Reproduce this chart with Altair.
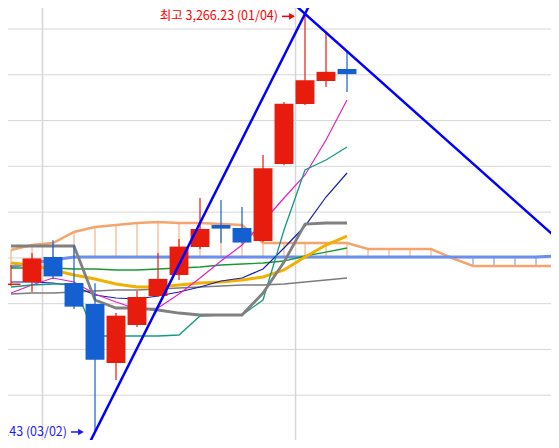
import altair as alt
import pandas as pd

# ---- monthly candles (KOSPI, Nov 2019 .. Mar 2021) ----
months = ["2019-11", "2019-12", "2020-01", "2020-02", "2020-03", "2020-04", "2020-05",
          "2020-06", "2020-07", "2020-08", "2020-09", "2020-10", "2020-11", "2020-12",
          "2021-01", "2021-02", "2021-03"]
open_p = [2081.6, 2094.7, 2203.9, 2090.3, 1998.6, 1740.8, 1906.8, 2033.5, 2125.3,
          2247.6, 2343.7, 2330.6, 2273.8, 2610.2, 2872.4, 2972.8, 3025.3]
high_p = [2169.0, 2221.4, 2277.23, 2255.0, 2089.6, 1959.2, 2055.4, 2221.4, 2282.5,
          2461.7, 2452.9, 2422.3, 2649.5, 2881.1, 3266.23, 3187.0, 3099.5]
low_p = [2077.2, 2051.0, 2109.0, 1976.7, 1439.43, 1666.5, 1898.1, 2030.0, 2103.4,
         2238.8, 2265.1, 2263.0, 2270.0, 2605.0, 2868.0, 2946.6, 2924.8]
close_p = [2087.96, 2197.67, 2119.01, 1987.01, 1754.64, 1947.56, 2029.60, 2108.33, 2249.37,
           2326.17, 2327.89, 2267.15, 2591.34, 2873.47, 2976.21, 3012.95, 3003.0]

# ---- indicator lines (one value per month) ----
ma5 = [2046.6, 2081.6, 2112.1, 2094.7, 2042.2, 2007.3, 1976.7, 1981.1, 2042.2,
       2112.1, 2186.4, 2256.3, 2356.8, 2461.7, 2562.2, 2715.1, 2889.8]
ma10 = [2094.7, 2094.7, 2090.3, 2077.2, 2037.9, 2024.8, 2020.4, 2033.5, 2051.0,
        2072.8, 2099.0, 2112.1, 2151.5, 2243.2, 2339.3, 2466.0, 2570.9]
ma20 = [2177.7, 2168.9, 2147.1, 2125.3, 2107.8, 2085.9, 2072.8, 2072.8, 2081.6,
        2090.3, 2094.7, 2103.4, 2116.5, 2147.1, 2203.9, 2256.3, 2295.6]
ma60 = [2155.8, 2155.8, 2155.8, 2151.5, 2151.5, 2147.1, 2147.1, 2151.5, 2155.8,
        2160.2, 2168.9, 2173.3, 2177.7, 2186.4, 2208.3, 2225.7, 2243.2]
ma120 = [2042.2, 2046.6, 2046.6, 2051.0, 2055.4, 2059.7, 2059.7, 2064.1, 2068.5,
         2072.8, 2077.2, 2081.6, 2081.6, 2085.9, 2094.7, 2103.4, 2112.1]
tenkan = [2072.8, 2081.6, 2085.9, 2085.9, 1858.7, 1858.7, 1858.7, 1858.7, 1863.1,
          1946.1, 1950.5, 1950.5, 2016.0, 2321.9, 2584.0, 2627.7, 2684.5]
kijun = [2252.0, 2252.0, 2252.0, 2252.0, 2016.0, 1981.1, 1981.1, 1972.3, 1959.2,
         1950.5, 1950.5, 1950.5, 2046.6, 2182.1, 2348.1, 2352.4, 2352.4]

# ---- Ichimoku cloud (extends 10 months ahead) ----
span_a = [2160.2, 2177.7, 2190.8, 2203.9, 2203.9, 2203.9, 2203.9, 2203.9, 2203.9,
          2203.9, 2203.9, 2203.9, 2203.9, 2203.9, 2203.9, 2203.9, 2203.9, 2203.9,
          2203.9, 2203.9, 2203.9, 2203.9, 2203.9, 2203.9, 2203.9, 2203.9, 2208.3]
span_b = [2234.5, 2256.3, 2265.1, 2313.1, 2335.0, 2343.7, 2352.4, 2356.8, 2352.4,
          2352.4, 2348.1, 2343.7, 2265.1, 2265.1, 2265.1, 2265.1, 2265.1, 2238.8,
          2238.8, 2238.8, 2238.8, 2199.5, 2164.6, 2164.6, 2164.6, 2164.6, 2164.6]

# ---- trend lines (month index, price) ----
trend_up_i = [3.55, 14.3]
trend_up_v = [1357.2, 3321.0]
trend_dn_i = [13.5, 26.2]
trend_dn_v = [3307.1, 2268.3]

grid_prices = [1400, 1600, 1800, 2000, 2200, 2400, 2600, 2800, 3000, 3200]
year_breaks = [1.5, 13.55]

high_label = "최고 3,266.23 (01/04)"
low_label = "최저 1,439.43 (03/02)"

RED = "#e81c0c"
BLUE = "#1560d0"
FONT = "Noto Sans CJK KR"

xs = alt.Scale(domain=[-0.143, 25.714], nice=False, zero=False)
ys = alt.Scale(domain=[1404.4, 3291.8], nice=False, zero=False)


def X(field):
    return alt.X(field, type="quantitative", scale=xs, axis=None)


def Y(field):
    return alt.Y(field, type="quantitative", scale=ys, axis=None)


def line(values, color, width):
    df = pd.DataFrame({"i": list(range(len(values))), "v": values})
    return alt.Chart(df).mark_line(color=color, strokeWidth=width, clip=True,
                                   interpolate="linear").encode(x=X("i"), y=Y("v"))


def annotation(i, v, text, color, dx_text, dy):
    df = pd.DataFrame({"i": [i], "v": [v], "t": [text]})
    base = alt.Chart(df).encode(x=X("i"), y=Y("v"))
    txt = base.mark_text(align="right", baseline="middle", dx=dx_text, dy=dy, font=FONT,
                         fontSize=12.5, color=color).encode(text="t:N")
    shaft = base.mark_rule(color=color, strokeWidth=1.5, xOffset=dx_text + 4,
                           x2Offset=dx_text + 13, yOffset=dy, y2Offset=dy).encode(x2="i", y2="v")
    head = base.mark_point(shape="triangle-right", filled=True, size=45, opacity=1,
                           color=color, xOffset=dx_text + 14, yOffset=dy)
    return [txt, shaft, head]


hgrid = alt.Chart(pd.DataFrame({"p": grid_prices})).mark_rule(
    color="#d6d6d6", strokeWidth=1, clip=True).encode(y=Y("p"))
vgrid = alt.Chart(pd.DataFrame({"b": year_breaks})).mark_rule(
    color="#d6d6d6", strokeWidth=1.5).encode(x=X("b"))

cloud_df = pd.DataFrame({"i": list(range(len(span_a))), "a": span_a, "b": span_b})
hatch = alt.Chart(cloud_df).mark_rule(strokeWidth=1, clip=True).encode(
    x=X("i"), y=Y("b"), y2="a",
    color=alt.condition("datum.b > datum.a", alt.value("#f5a46e"), alt.value("#6b8ff0")))

cdf = pd.DataFrame({"i": list(range(len(months))), "month": months, "open": open_p,
                    "high": high_p, "low": low_p, "close": close_p})
candle_color = alt.condition("datum.close >= datum.open", alt.value(RED), alt.value(BLUE))
wicks = alt.Chart(cdf).mark_rule(strokeWidth=1.2, clip=True).encode(
    x=X("i"), y=Y("low"), y2="high", color=candle_color)
bodies = alt.Chart(cdf).transform_calculate(
    x0="datum.i - 0.45", x1="datum.i + 0.45").mark_rect(clip=True).encode(
    x=X("x0"), x2="x1", y=Y("open"), y2="close", color=candle_color)

trend1 = alt.Chart(pd.DataFrame({"i": trend_up_i, "v": trend_up_v})).mark_line(
    color="#0000ff", strokeWidth=2.5, clip=True).encode(x=X("i"), y=Y("v"))
trend2 = alt.Chart(pd.DataFrame({"i": trend_dn_i, "v": trend_dn_v})).mark_line(
    color="#0000ff", strokeWidth=2.5, clip=True).encode(x=X("i"), y=Y("v"))

layers = [
    hgrid, vgrid, hatch,
    line(span_b, "#f5a46e", 2.5),
    line(span_a, "#6b8ff0", 3),
    line(ma120, "#7c7c7c", 1.3),
    line(ma60, "#189a30", 1.3),
    line(ma20, "#f2b000", 3),
    line(ma10, "#1020a8", 1.2),
    line(ma5, "#e020c8", 1.2),
    line(tenkan, "#149a82", 1.3),
    line(kijun, "#808080", 2.8),
    wicks, bodies,
    trend1, trend2,
]
layers += annotation(14, 3266.23, high_label, "#ff0000", -27, 2.5)
layers += annotation(4, 1439.43, low_label, "#1a1aff", -28, 0)

chart = alt.layer(*layers).properties(
    width=543, height=432,
    autosize=alt.AutoSizeParams(type="none"),
    padding=0,
).configure_view(stroke=None)

chart.save("out.html", embed_options={"renderer": "svg", "actions": False})
